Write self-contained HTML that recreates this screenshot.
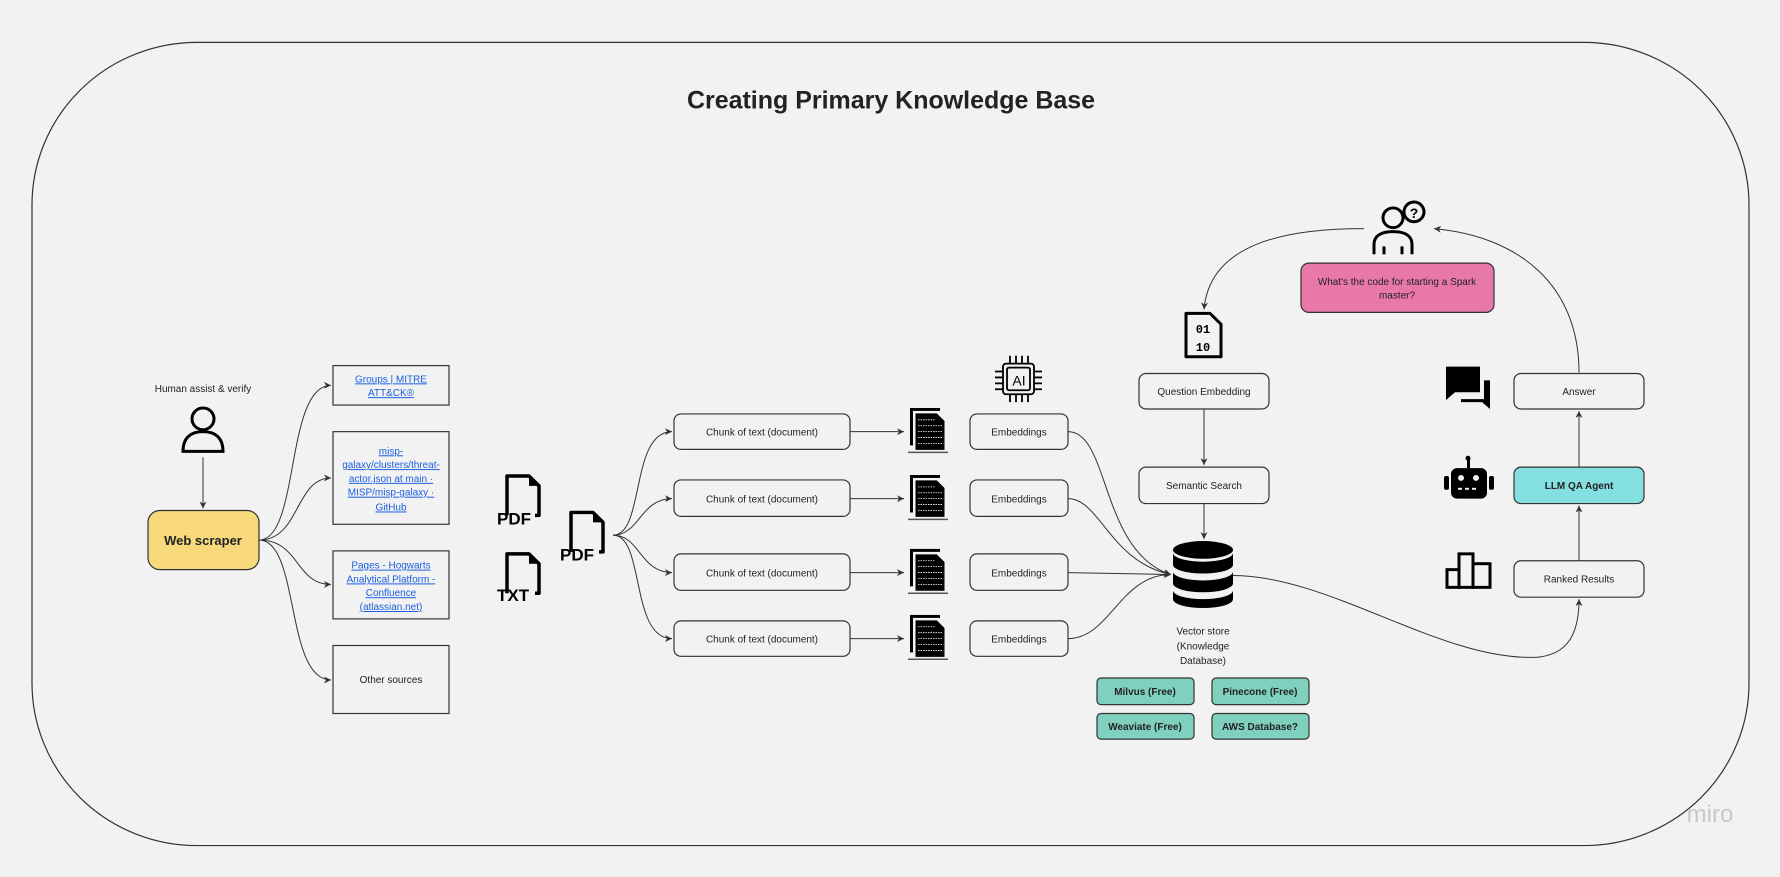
<!DOCTYPE html>
<html><head><meta charset="utf-8"><style>
html,body{margin:0;padding:0;background:#f2f2f2;}
svg{display:block;font-family:"Liberation Sans",sans-serif;}
</style></head><body>
<svg width="1780" height="877" viewBox="0 0 1780 877" xmlns="http://www.w3.org/2000/svg">
<defs>
<marker id="a" markerWidth="8" markerHeight="8" refX="7" refY="4" orient="auto" markerUnits="userSpaceOnUse"><path d="M0,0.5 L7,4 L0,7.5 L2,4 z" fill="#333"/></marker>
<g id="doc">
<rect x="0" y="0" width="30" height="38" fill="#000"/>
<rect x="3" y="3" width="30" height="38" fill="#f2f2f2"/>
<path d="M5,5 h22 l8,8 v30 h-30 z" fill="#000" stroke="#f2f2f2" stroke-width="1"/>
<g fill="none" stroke="#fff" stroke-width="0.8">
<line x1="8" y1="12" x2="25" y2="12" stroke-dasharray="1.5 1"/>
<line x1="8" y1="18" x2="32" y2="18" stroke-dasharray="1.5 1"/>
<line x1="8" y1="24" x2="32" y2="24" stroke-dasharray="1.5 1"/>
<line x1="8" y1="30" x2="32" y2="30" stroke-dasharray="1.5 1"/>
<line x1="8" y1="36" x2="32" y2="36" stroke-dasharray="1.5 1"/>
</g>
<line x1="-2" y1="45" x2="38" y2="45" stroke="#555" stroke-width="1.5"/>
</g>
<g id="file">
<path d="M2,42 V2 h22 l10,10 v30 h-4" fill="none" stroke="#000" stroke-width="3.5" stroke-linejoin="round"/>
<path d="M24,2 v10 h10 z" fill="#000"/>
</g>
</defs>
<g transform="scale(1,0.9855)">
<rect x="32" y="43" width="1717" height="815" rx="165" ry="165" fill="#f2f2f2" stroke="#333" stroke-width="1.2"/>
<text x="891" y="110" text-anchor="middle" font-size="25" font-weight="bold" fill="#222">Creating Primary Knowledge Base</text>

<text x="203" y="398" text-anchor="middle" font-size="10" fill="#222">Human assist &amp; verify</text>
<g fill="none" stroke="#000" stroke-width="3">
<circle cx="203" cy="425" r="11"/>
<path d="M183,458 c0,-14 8,-20 20,-20 c12,0 20,6 20,20 z"/>
</g>
<line x1="203" y1="464" x2="203" y2="516" stroke="#333" marker-end="url(#a)"/>
<rect x="148" y="518" width="111" height="60" rx="12" fill="#f7d97c" stroke="#333" stroke-width="1.2"/>
<text x="203" y="553" text-anchor="middle" font-size="13" font-weight="bold" fill="#222">Web scraper</text>

<g fill="none" stroke="#333" stroke-width="1">
<path d="M259,548 C300,548 285,391 331,391" marker-end="url(#a)"/>
<path d="M259,548 C300,548 295,485 331,485" marker-end="url(#a)"/>
<path d="M259,548 C300,548 295,593 331,593" marker-end="url(#a)"/>
<path d="M259,548 C300,548 285,690 331,690" marker-end="url(#a)"/>
</g>
<g fill="#f2f2f2" stroke="#333" stroke-width="1.2">
<rect x="333" y="371" width="116" height="40"/>
<rect x="333" y="438" width="116" height="94"/>
<rect x="333" y="559" width="116" height="69"/>
<rect x="333" y="655" width="116" height="69"/>
</g>
<g font-size="10" fill="#1a5fe0" text-anchor="middle" text-decoration="underline">
<text x="391" y="388">Groups | MITRE</text><text x="391" y="402">ATT&amp;CK®</text>
<text x="391" y="461">misp-</text><text x="391" y="475">galaxy/clusters/threat-</text><text x="391" y="489">actor.json at main ·</text><text x="391" y="503">MISP/misp-galaxy ·</text><text x="391" y="518">GitHub</text>
<text x="391" y="577">Pages - Hogwarts</text><text x="391" y="591">Analytical Platform -</text><text x="391" y="605">Confluence</text><text x="391" y="619">(atlassian.net)</text>
</g>
<text x="391" y="693" text-anchor="middle" font-size="10" fill="#222">Other sources</text>

<use href="#file" x="505" y="481"/>
<text x="497" y="532" font-size="17" font-weight="bold" fill="#000">PDF</text>
<use href="#file" x="505" y="560"/>
<text x="497" y="610" font-size="17" font-weight="bold" fill="#000">TXT</text>
<use href="#file" x="569" y="518"/>
<text x="560" y="569" font-size="17" font-weight="bold" fill="#000">PDF</text>

<g fill="none" stroke="#333" stroke-width="1">
<path d="M613,543 C645,543 630,438 672,438" marker-end="url(#a)"/>
<path d="M613,543 C640,543 640,506 672,506" marker-end="url(#a)"/>
<path d="M613,543 C640,543 640,581 672,581" marker-end="url(#a)"/>
<path d="M613,543 C645,543 630,648 672,648" marker-end="url(#a)"/>
<line x1="850" y1="438" x2="904" y2="438" marker-end="url(#a)"/>
<line x1="850" y1="506" x2="904" y2="506" marker-end="url(#a)"/>
<line x1="850" y1="581" x2="904" y2="581" marker-end="url(#a)"/>
<line x1="850" y1="648" x2="904" y2="648" marker-end="url(#a)"/>
</g>
<g fill="#f2f2f2" stroke="#333" stroke-width="1.2">
<rect x="674" y="420" width="176" height="36" rx="7"/>
<rect x="674" y="487" width="176" height="37" rx="7"/>
<rect x="674" y="562" width="176" height="37" rx="7"/>
<rect x="674" y="630" width="176" height="36" rx="7"/>
<rect x="970" y="420" width="98" height="36" rx="7"/>
<rect x="970" y="487" width="98" height="37" rx="7"/>
<rect x="970" y="562" width="98" height="37" rx="7"/>
<rect x="970" y="630" width="98" height="36" rx="7"/>
</g>
<g font-size="10" fill="#222" text-anchor="middle">
<text x="762" y="442">Chunk of text (document)</text>
<text x="762" y="510">Chunk of text (document)</text>
<text x="762" y="585">Chunk of text (document)</text>
<text x="762" y="652">Chunk of text (document)</text>
<text x="1019" y="442">Embeddings</text>
<text x="1019" y="510">Embeddings</text>
<text x="1019" y="585">Embeddings</text>
<text x="1019" y="652">Embeddings</text>
</g>
<use href="#doc" x="910" y="414"/>
<use href="#doc" x="910" y="482"/>
<use href="#doc" x="910" y="557"/>
<use href="#doc" x="910" y="624"/>

<g fill="none" stroke="#000" stroke-width="1.8">
<rect x="1003" y="369" width="31" height="31" rx="3"/>
<rect x="1007" y="373" width="23" height="23" rx="2"/>
<path d="M1010,361v8M1016,361v8M1022,361v8M1028,361v8M1010,400v8M1016,400v8M1022,400v8M1028,400v8M995,377h8M995,383h8M995,389h8M995,395h8M1034,377h8M1034,383h8M1034,389h8M1034,395h8"/>
</g>
<text x="1019" y="391" text-anchor="middle" font-size="14" fill="#000">AI</text>

<g fill="none" stroke="#333" stroke-width="1">
<path d="M1068,438 C1110,438 1100,560 1171,583" marker-end="url(#a)"/>
<path d="M1068,506 C1100,506 1110,570 1171,583" marker-end="url(#a)"/>
<path d="M1068,581 L1171,583" marker-end="url(#a)"/>
<path d="M1068,648 C1110,648 1120,583 1171,583" marker-end="url(#a)"/>
</g>
<g fill="#000">
<ellipse cx="1203" cy="558" rx="30" ry="9"/>
<path d="M1173,561 v12 a30,9 0 0 0 60,0 v-12 a30,9 0 0 1 -60,0z"/>
<path d="M1173,580 v12 a30,9 0 0 0 60,0 v-12 a30,9 0 0 1 -60,0z"/>
<path d="M1173,599 v9 a30,9 0 0 0 60,0 v-9 a30,9 0 0 1 -60,0z"/>
</g>
<g font-size="10" fill="#222" text-anchor="middle">
<text x="1203" y="644">Vector store</text><text x="1203" y="659">(Knowledge</text><text x="1203" y="674">Database)</text>
</g>
<g fill="#7fd0be" stroke="#333" stroke-width="1.2">
<rect x="1097" y="688" width="97" height="27" rx="4"/>
<rect x="1212" y="688" width="97" height="27" rx="4"/>
<rect x="1097" y="724" width="97" height="26" rx="4"/>
<rect x="1212" y="724" width="97" height="26" rx="4"/>
</g>
<g font-size="10" font-weight="bold" fill="#222" text-anchor="middle">
<text x="1145" y="705">Milvus (Free)</text><text x="1260" y="705">Pinecone (Free)</text>
<text x="1145" y="741">Weaviate (Free)</text><text x="1260" y="741">AWS Database?</text>
</g>

<path d="M1186,318 h24 l11,11 v33 h-35 z" fill="none" stroke="#000" stroke-width="3" stroke-linejoin="round"/>
<text x="1203" y="338" text-anchor="middle" font-size="12" font-weight="bold" font-family="Liberation Mono" fill="#000">01</text>
<text x="1203" y="356" text-anchor="middle" font-size="12" font-weight="bold" font-family="Liberation Mono" fill="#000">10</text>
<g fill="#f2f2f2" stroke="#333" stroke-width="1.2">
<rect x="1139" y="379" width="130" height="36" rx="7"/>
<rect x="1139" y="474" width="130" height="37" rx="7"/>
</g>
<g font-size="10" fill="#222" text-anchor="middle">
<text x="1204" y="401">Question Embedding</text>
<text x="1204" y="496">Semantic Search</text>
</g>
<g fill="none" stroke="#333" stroke-width="1">
<line x1="1204" y1="415" x2="1204" y2="472" marker-end="url(#a)"/>
<line x1="1204" y1="511" x2="1204" y2="547" marker-end="url(#a)"/>
<path d="M1364,232 C1290,232 1210,245 1204,314" marker-end="url(#a)"/>
<path d="M1579,378 C1579,290 1520,240 1434,232" marker-end="url(#a)"/>
<path d="M1233,584 C1330,584 1440,670 1535,667 C1570,665 1579,640 1579,608" marker-end="url(#a)"/>
<line x1="1579" y1="569" x2="1579" y2="513" marker-end="url(#a)"/>
<line x1="1579" y1="474" x2="1579" y2="417" marker-end="url(#a)"/>
</g>
<g fill="none" stroke="#000" stroke-width="3">
<circle cx="1393" cy="221" r="10"/>
<circle cx="1414" cy="215" r="10"/>
<path d="M1374,258 v-10 c0,-8 6,-13 19,-13 c13,0 19,5 19,13 v10"/>
<path d="M1384,250 v8 M1402,250 v8" />
</g>
<text x="1414" y="221" text-anchor="middle" font-size="14" font-weight="bold" fill="#000">?</text>
<rect x="1301" y="267" width="193" height="50" rx="8" fill="#e878a9" stroke="#333" stroke-width="1.2"/>
<g font-size="10" fill="#222" text-anchor="middle">
<text x="1397" y="289">What's the code for starting a Spark</text>
<text x="1397" y="303">master?</text>
</g>

<g fill="#f2f2f2" stroke="#333" stroke-width="1.2">
<rect x="1514" y="379" width="130" height="36" rx="7"/>
<rect x="1514" y="569" width="130" height="37" rx="7"/>
</g>
<rect x="1514" y="474" width="130" height="37" rx="7" fill="#84dfe0" stroke="#333" stroke-width="1.2"/>
<g font-size="10" fill="#222" text-anchor="middle">
<text x="1579" y="401">Answer</text>
<text x="1579" y="496" font-weight="bold">LLM QA Agent</text>
<text x="1579" y="591">Ranked Results</text>
</g>
<path d="M1446,372 h34 v26 h-25 l-9,8 z" fill="#000"/>
<path d="M1484,386 h6 v29 l-8,-7 h-21 v-3 h23 z" fill="#000"/>
<g fill="#000">
<rect x="1451" y="475" width="36" height="31" rx="6"/>
<rect x="1467" y="465" width="3" height="10"/>
<circle cx="1468" cy="465" r="2.5"/>
<rect x="1444" y="483" width="5" height="14" rx="2"/>
<rect x="1489" y="483" width="5" height="14" rx="2"/>
</g>
<g fill="#f2f2f2">
<circle cx="1461" cy="485" r="3"/><circle cx="1476" cy="485" r="3"/>
<rect x="1458" y="495" width="4" height="2"/><rect x="1465" y="495" width="4" height="2"/><rect x="1472" y="495" width="4" height="2"/>
</g>
<g fill="none" stroke="#000" stroke-width="3">
<rect x="1447" y="578" width="12" height="18"/>
<rect x="1459" y="562" width="14" height="34"/>
<rect x="1473" y="572" width="17" height="24"/>
</g>
<text x="1710" y="834" text-anchor="middle" font-size="24" fill="#c8c8c8">miro</text>
</g>
</svg>
</body></html>
